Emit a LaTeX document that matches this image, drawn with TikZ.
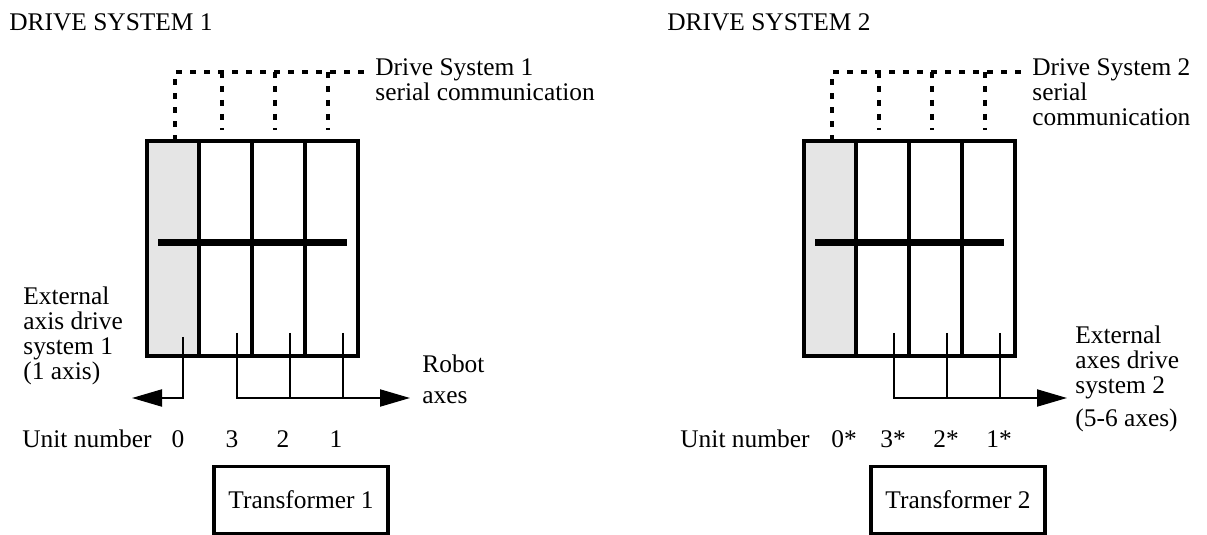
\documentclass[tikz,border=0pt]{standalone}
\usepackage{fontspec}
\setmainfont{Liberation Serif}
\usetikzlibrary{arrows.meta}

\begin{document}
\begin{tikzpicture}[
  x=0.5pt,y=-0.5pt,
  every node/.style={inner sep=0pt,font=\fontsize{12.7}{12.5}\selectfont},
  textblock/.style={anchor=north west,align=left},
  unitno/.style={anchor=base},
  cabinet/.style={line width=1.6pt},
  busbar/.style={line width=3.5pt},
  serial/.style={line width=1.6pt,dash pattern=on 3pt off 4pt},
  feed/.style={line width=1pt},
  axisarrow/.style={feed,-{Triangle[length=15pt,width=8.5pt]}},
  transformer/.style={draw,line width=1.6pt,minimum width=87pt,minimum height=33.5pt}
]
  \useasboundingbox (0,0) rectangle (1207,535);

  % both drive cabinets with their serial links
  \foreach \sys/\dx in {1/0,2/657} {
    \fill[black!10] (147+\dx,141) rectangle (199+\dx,356);
    \draw[cabinet] (147+\dx,141) rectangle (358+\dx,356);
    \foreach \cx in {199,252,305}
      \draw[cabinet] (\cx+\dx,141) -- (\cx+\dx,356);
    \draw[busbar] (158+\dx,243) -- (347+\dx,243);
    \coordinate (ds\sys-link) at (368+\dx,72);
    \draw[serial] (175+\dx,141) -- (175+\dx,72) -- (ds\sys-link);
    \foreach \cx in {222,275,328}
      \draw[serial] (\cx+\dx,72) -- (\cx+\dx,130);
  }

  \node[anchor=base west] (ds1-title) at (9,31) {DRIVE SYSTEM 1};
  \node[anchor=base west] (ds2-title) at (667,31) {DRIVE SYSTEM 2};

  \node[textblock] (ds1-comm-text) at (375,58) {Drive System 1\\serial communication};
  \node[textblock] (ds2-comm-text) at (1032,58) {Drive System 2\\serial\\communication};
  \node[textblock] (ds1-ext-text) at (23,286) {External\\axis drive\\system 1\\(1 axis)};
  \node[textblock] (ds1-robot-text) at (422,354) {Robot\\[3pt]axes};
  \node[textblock] (ds2-ext-text) at (1075,325) {External\\axes drive\\system 2\\[4pt](5-6 axes)};

  % unit taps and axis feeds
  \coordinate (ds1-tap0) at (183,337);
  \foreach \u/\x in {3/237,2/290,1/343} {
    \coordinate (ds1-tap\u) at (\x,333);
    \coordinate (ds2-tap\u) at (\x+657,333);
  }
  \coordinate (ds1-left-end) at (132,398);
  \coordinate (ds1-right-end) at (410,398);
  \coordinate (ds2-right-end) at (1067,398);

  \draw[axisarrow] (ds1-tap0) |- (ds1-left-end);
  \foreach \sys in {1,2} {
    \draw[axisarrow] (ds\sys-tap3) |- (ds\sys-right-end);
    \draw[feed] (ds\sys-tap2) -- (ds\sys-tap2 |- ds\sys-right-end);
    \draw[feed] (ds\sys-tap1) -- (ds\sys-tap1 |- ds\sys-right-end);
  }

  \node[anchor=base west] (ds1-unit) at (22,447) {Unit number};
  \foreach \u/\x in {0/178,3/232,2/283,1/336}
    \node[unitno] (ds1-no\u) at (\x,447) {\u};
  \node[anchor=base west] (ds2-unit) at (680,447) {Unit number};
  \foreach \u/\x in {0/844,3/893,2/946,1/999}
    \node[unitno] (ds2-no\u) at (\x,447) {\u*};

  \node[transformer] (ds1-trafo) at (301,500) {Transformer 1};
  \node[transformer] (ds2-trafo) at (958,500) {Transformer 2};
\end{tikzpicture}
\end{document}
